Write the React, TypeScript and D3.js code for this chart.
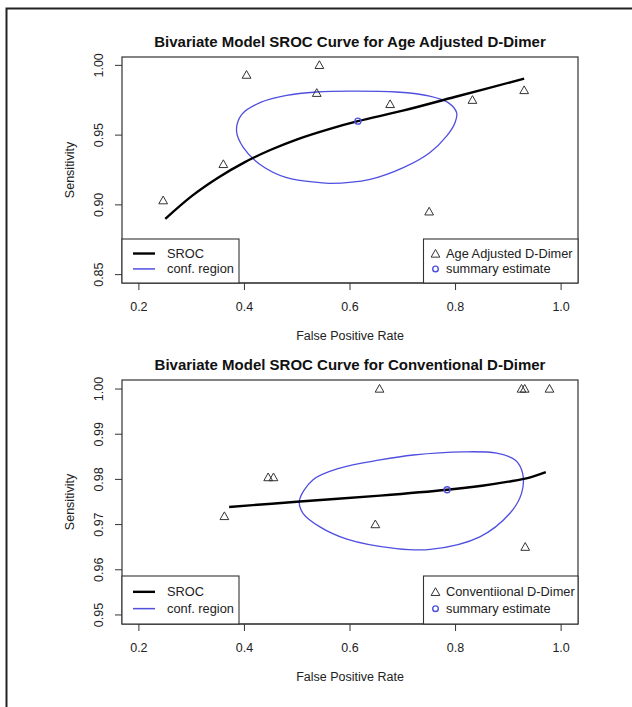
import React from "react";
import * as d3 from "d3";

// ---------- data ----------
const xTickValues = [0.2, 0.4, 0.6, 0.8, 1.0];
const xTickLabels = ["0.2", "0.4", "0.6", "0.8", "1.0"];

// Panel 1: Age Adjusted D-Dimer
const ageTitle = "Bivariate Model SROC Curve for Age Adjusted D-Dimer";
const ageYTicks = [0.85, 0.9, 0.95, 1.0];
const ageYTickLabels = ["0.85", "0.90", "0.95", "1.00"];
const ageStudyFPR = [0.246, 0.36, 0.404, 0.542, 0.537, 0.676, 0.832, 0.93, 0.75];
const ageStudySens = [0.903, 0.929, 0.993, 1.0, 0.98, 0.972, 0.975, 0.982, 0.895];
const ageSummaryFPR = 0.615;
const ageSummarySens = 0.96;
const ageSrocFPR = [0.25, 0.3, 0.35, 0.4, 0.45, 0.5, 0.562, 0.615, 0.7, 0.8, 0.93];
const ageSrocSens = [0.89, 0.9063, 0.9195, 0.9305, 0.9395, 0.947, 0.9545, 0.96, 0.9675, 0.9775, 0.9905];
const ageRegionFPR = [0.385, 0.395, 0.4295, 0.48, 0.537, 0.6, 0.688, 0.751, 0.786, 0.802, 0.799, 0.783, 0.751, 0.701, 0.638, 0.562, 0.543, 0.48, 0.4295, 0.398];
const ageRegionSens = [0.9529, 0.9649, 0.9733, 0.9785, 0.9809, 0.9816, 0.9809, 0.978, 0.9733, 0.9661, 0.9589, 0.9493, 0.9374, 0.9267, 0.9183, 0.9154, 0.9159, 0.9195, 0.929, 0.941];
const ageLegendRight = ["Age Adjusted D-Dimer", "summary estimate"];

// Panel 2: Conventional D-Dimer
const convTitle = "Bivariate Model SROC Curve for Conventional D-Dimer";
const convYTicks = [0.95, 0.96, 0.97, 0.98, 0.99, 1.0];
const convYTickLabels = ["0.95", "0.96", "0.97", "0.98", "0.99", "1.00"];
const convStudyFPR = [0.362, 0.445, 0.455, 0.656, 0.648, 0.925, 0.931, 0.978, 0.932];
const convStudySens = [0.9718, 0.9804, 0.9804, 1.0, 0.97, 1.0, 1.0, 1.0, 0.965];
const convSummaryFPR = 0.784;
const convSummarySens = 0.9777;
const convSrocFPR = [0.371, 0.505, 0.657, 0.784, 0.85, 0.9, 0.94, 0.971];
const convSrocSens = [0.9739, 0.9751, 0.9764, 0.9777, 0.9786, 0.9795, 0.9804, 0.9816];
const convRegionFPR = [0.504, 0.53, 0.581, 0.657, 0.72, 0.815, 0.878, 0.913, 0.927, 0.925, 0.903, 0.846, 0.752, 0.688, 0.594, 0.543, 0.511];
const convRegionSens = [0.9752, 0.9799, 0.9825, 0.9843, 0.9854, 0.9861, 0.9858, 0.9843, 0.9814, 0.9769, 0.9725, 0.9673, 0.9645, 0.9647, 0.9668, 0.9695, 0.9725];
const convLegendRight = ["Conventiional D-Dimer", "summary estimate"];

const legendLeft = ["SROC", "conf. region"];
const xLabel = "False Positive Rate";
const yLabel = "Sensitivity";

// ---------- styles ----------
const FONT = "'Liberation Sans', Arial, Helvetica, sans-serif";
const BLUE = "#4f4fe0";
const INK = "#222";

type PanelProps = {
  title: string;
  top: number;
  bottom: number;
  yTicks: number[];
  yTickLabels: string[];
  yMin: number;
  yMax: number;
  studyFPR: number[];
  studySens: number[];
  sumFPR: number;
  sumSens: number;
  srocFPR: number[];
  srocSens: number[];
  regionFPR: number[];
  regionSens: number[];
  legendRight: string[];
};

const LEFT = 122;
const RIGHT = 578;

function triPath(cx: number, cy: number) {
  const s = 4.6;
  return `M${cx},${cy - s}L${cx + s * 0.95},${cy + s * 0.68}L${cx - s * 0.95},${cy + s * 0.68}Z`;
}

function Panel(p: PanelProps) {
  const xPad = (1.0 - 0.2) * 0.04;
  const x = d3.scaleLinear().domain([0.2 - xPad, 1.0 + xPad]).range([LEFT, RIGHT]);
  const yPad = (p.yMax - p.yMin) * 0.04;
  const y = d3.scaleLinear().domain([p.yMin - yPad, p.yMax + yPad]).range([p.bottom, p.top]);

  const sroc = d3
    .line<number>()
    .x((d) => x(d))
    .y((_, i) => y(p.srocSens[i]))
    .curve(d3.curveCatmullRom.alpha(0.5))(p.srocFPR) as string;

  const region = d3
    .line<number>()
    .x((d) => x(d))
    .y((_, i) => y(p.regionSens[i]))
    .curve(d3.curveCatmullRomClosed.alpha(0.5))(p.regionFPR) as string;

  const cxMid = (LEFT + RIGHT) / 2;
  const cyMid = (p.top + p.bottom) / 2;
  const legH = p.bottom - p.top > 235 ? 48 : 44;
  const legTop = p.bottom - legH;
  const row1 = legTop + legH * 0.33;
  const row2 = legTop + legH * 0.68;

  return (
    <g>
      <text x={cxMid} y={p.top - 10} textAnchor="middle" fontFamily={FONT} fontWeight="bold" fontSize={15} fill="#111">
        {p.title}
      </text>
      <rect x={LEFT} y={p.top} width={RIGHT - LEFT} height={p.bottom - p.top} fill="none" stroke="#333" strokeWidth={1.2} />
      {/* x axis */}
      <line x1={x(xTickValues[0])} x2={x(xTickValues[xTickValues.length - 1])} y1={p.bottom} y2={p.bottom} stroke="#333" strokeWidth={1.2} />
      {xTickValues.map((v, i) => (
        <g key={"xt" + i}>
          <line x1={x(v)} x2={x(v)} y1={p.bottom} y2={p.bottom + 7} stroke="#333" strokeWidth={1} />
          <text x={x(v)} y={p.bottom + 28} textAnchor="middle" fontFamily={FONT} fontSize={12.5} fill="#222">
            {xTickLabels[i]}
          </text>
        </g>
      ))}
      <text x={cxMid} y={p.bottom + 57} textAnchor="middle" fontFamily={FONT} fontSize={12.5} fill="#222">
        {xLabel}
      </text>
      {/* y axis */}
      {p.yTicks.map((v, i) => (
        <g key={"yt" + i}>
          <line x1={LEFT} x2={LEFT - 7} y1={y(v)} y2={y(v)} stroke="#333" strokeWidth={1} />
          <text
            transform={`translate(${LEFT - 19.5},${y(v)}) rotate(-90)`}
            textAnchor="middle"
            fontFamily={FONT}
            fontSize={12.5}
            fill="#222"
          >
            {p.yTickLabels[i]}
          </text>
        </g>
      ))}
      <text transform={`translate(74,${cyMid}) rotate(-90)`} textAnchor="middle" fontFamily={FONT} fontSize={12.5} fill="#222">
        {yLabel}
      </text>
      {/* confidence region */}
      <path d={region} fill="none" stroke={BLUE} strokeWidth={1.3} />
      {/* SROC */}
      <path d={sroc} fill="none" stroke="#000" strokeWidth={2.4} />
      {/* studies */}
      {p.studyFPR.map((v, i) => (
        <path key={"s" + i} d={triPath(x(v), y(p.studySens[i]))} fill="none" stroke="#333" strokeWidth={1} />
      ))}
      {/* summary */}
      <circle cx={x(p.sumFPR)} cy={y(p.sumSens)} r={3} fill="none" stroke={BLUE} strokeWidth={1.4} />
      {/* left legend */}
      <rect x={LEFT} y={legTop} width={117} height={legH} fill="#fff" stroke="#333" strokeWidth={1.1} />
      <line x1={LEFT + 11} x2={LEFT + 33} y1={row1} y2={row1} stroke="#000" strokeWidth={2.4} />
      <line x1={LEFT + 11} x2={LEFT + 33} y1={row2} y2={row2} stroke={BLUE} strokeWidth={1.5} />
      <text x={LEFT + 45} y={row1 + 4.5} fontFamily={FONT} fontSize={12.8} fill="#222">
        {legendLeft[0]}
      </text>
      <text x={LEFT + 45} y={row2 + 4.5} fontFamily={FONT} fontSize={12.8} fill="#222">
        {legendLeft[1]}
      </text>
      {/* right legend */}
      <rect x={423.5} y={legTop} width={RIGHT - 423.5} height={legH} fill="#fff" stroke="#333" strokeWidth={1.1} />
      <path d={triPath(435.5, row1 + 0.5)} fill="none" stroke="#333" strokeWidth={1} />
      <circle cx={435.5} cy={row2} r={2.8} fill="none" stroke={BLUE} strokeWidth={1.4} />
      <text x={446} y={row1 + 4.5} fontFamily={FONT} fontSize={12.8} fill="#222">
        {p.legendRight[0]}
      </text>
      <text x={446} y={row2 + 4.5} fontFamily={FONT} fontSize={12.8} fill="#222">
        {p.legendRight[1]}
      </text>
    </g>
  );
}

export default function App() {
  return (
    <svg
      width={632}
      height={707}
      viewBox="0 0 632 707"
      style={{ position: "absolute", left: 0, top: 0, background: "#fff" }}
    >
      <rect x={0} y={0} width={632} height={707} fill="#fff" />
      <path d="M6.5,707 V8.5 H632" fill="none" stroke={INK} strokeWidth={2} />
      <Panel
        title={ageTitle}
        top={57}
        bottom={283}
        yTicks={ageYTicks}
        yTickLabels={ageYTickLabels}
        yMin={0.85}
        yMax={1.0}
        studyFPR={ageStudyFPR}
        studySens={ageStudySens}
        sumFPR={ageSummaryFPR}
        sumSens={ageSummarySens}
        srocFPR={ageSrocFPR}
        srocSens={ageSrocSens}
        regionFPR={ageRegionFPR}
        regionSens={ageRegionSens}
        legendRight={ageLegendRight}
      />
      <Panel
        title={convTitle}
        top={380}
        bottom={624}
        yTicks={convYTicks}
        yTickLabels={convYTickLabels}
        yMin={0.95}
        yMax={1.0}
        studyFPR={convStudyFPR}
        studySens={convStudySens}
        sumFPR={convSummaryFPR}
        sumSens={convSummarySens}
        srocFPR={convSrocFPR}
        srocSens={convSrocSens}
        regionFPR={convRegionFPR}
        regionSens={convRegionSens}
        legendRight={convLegendRight}
      />
    </svg>
  );
}
